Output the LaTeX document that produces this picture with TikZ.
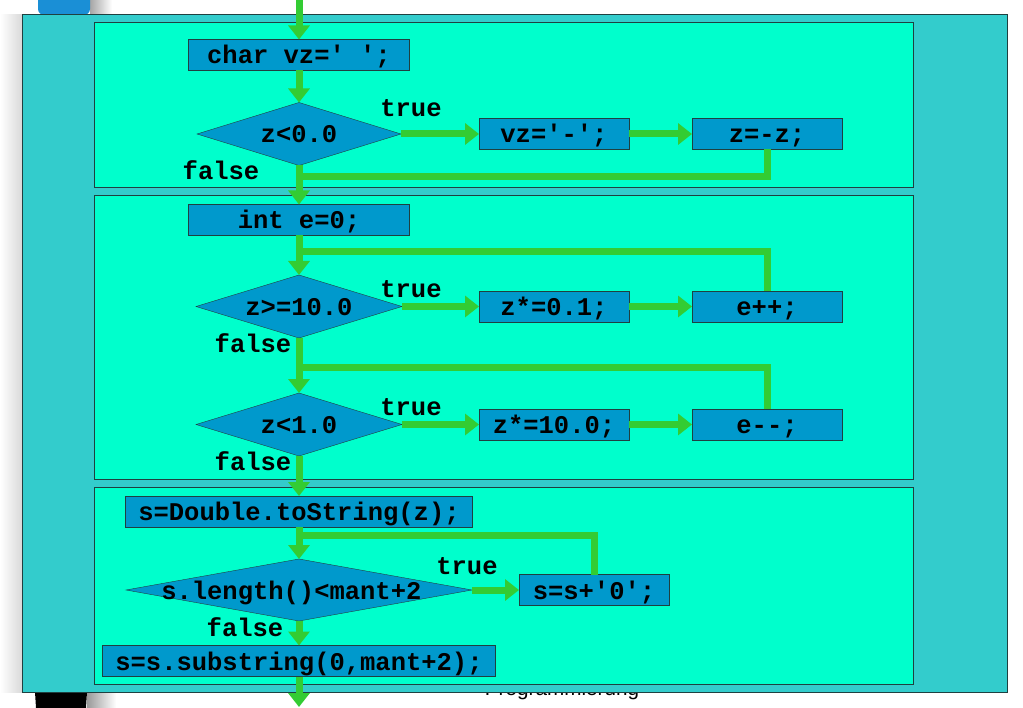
\documentclass[tikz,border=0pt]{standalone}
\usepackage{fontspec}
\setmonofont{Liberation Mono}
\newfontfamily\slidefont{Liberation Sans}
\usetikzlibrary{shapes.geometric,arrows.meta}
\definecolor{outerbg}{HTML}{33CCCC}
\definecolor{innerbg}{HTML}{00FFCC}
\definecolor{boxblue}{HTML}{0099CC}
\definecolor{flowgreen}{HTML}{33CC33}
\definecolor{rim}{HTML}{1F4040}
\definecolor{blobblue}{HTML}{1A8FD6}
\tikzset{
    code/.style={font=\ttfamily\bfseries\fontsize{25.5}{28}\selectfont,text height=20pt,text depth=2pt},
    proc/.style={code,draw=rim,fill=boxblue,minimum height=31,inner sep=0pt,outer sep=0pt},
    cond/.style={code,diamond,draw=rim,fill=boxblue,inner sep=0pt,outer sep=0pt},
    panel/.style={draw=rim,fill=innerbg,line width=1pt},
    flow/.style={draw=flowgreen,line width=7pt},
    go/.style={flow,-{Triangle[width=21pt,length=14pt]}}
}
\begin{document}
\begin{tikzpicture}[x=1pt,y=-1pt]
    \useasboundingbox (0,0) rectangle (1023,708);
    \shade[left color=white,right color=black!15] (0,15) rectangle (22,692);
    \shade[left color=black!35,right color=white] (90,0) rectangle (112,15);
    \fill[blobblue,rounded corners=6pt] (38,-10) rectangle (90,15);
    \shade[left color=black!40,right color=white] (87,692) rectangle (116,708);
    \fill[black] (35,692) -- (87,692) -- (86,708) -- (36,708) -- cycle;
    \node[font=\slidefont\fontsize{20.7}{24}\selectfont,anchor=base] (slide) at (562,695) {Programmierung};
    \draw[draw=rim,fill=outerbg,line width=1pt] (22,15) rectangle (1007,692);
    \foreach \a/\b in {23/188,196/479,487/684}
        \draw[panel] (94,\a) rectangle (913,\b);
    \foreach \n/\x/\y/\w/\t in {
        init/299/55/221/{char vz=' ';},
        neg/554/134/150/{vz='-';},
        flip/767/134/150/{z=-z;},
        einit/299/220/221/{int e=0;},
        mulA/554/306.5/150/{z*=0.1;},
        inc/767/306.5/150/{e++;},
        mulB/554/424.5/150/{z*=10.0;},
        dec/767/424.5/150/{e--;},
        tostr/299/511.5/347/{s=Double.toString(z);},
        pad/594/590/150/{s=s+'0';},
        cut/299/661/393/{s=s.substring(0,mant+2);}
    }
        \node[proc,minimum width=\w] (\n) at (\x,\y) {\t};
    \foreach \n/\y/\w/\h/\t in {
        condA/134/204/63/{z<0.0},
        condB/306.5/206/63/{z>=10.0},
        condC/424.5/206/63/{z<1.0},
        condD/590/346/62/{s.length()<mant+2}
    }
        \node[cond,minimum width=\w,minimum height=\h] (\n) at (299,\y) {\makebox[0pt]{\t}};
    \foreach \n/\x/\y/\t in {
        tA/411/108/true, fA/221/171/false,
        tB/411/289/true, fB/253/344/false,
        tC/411/407/true, fC/253/462/false,
        tD/467/565/true, fD/245/627/false
    }
        \node[code] (\n) at (\x,\y) {\t};
    \coordinate (top) at (299,0);
    \coordinate (bottom) at (299,707);
    \coordinate (jA) at (299,177);
    \coordinate (jB) at (299,252);
    \coordinate (jC) at (299,368);
    \coordinate (jD) at (299,535);
    \draw[go] (top) -- (init);
    \draw[go] (init) -- (condA);
    \draw[go] (condA) -- (neg);
    \draw[go] (neg) -- (flip);
    \draw[flow] (flip.south) |- (jA);
    \draw[go] (condA) -- (einit);
    \draw[go] (einit) -- (condB);
    \draw[go] (condB) -- (mulA);
    \draw[go] (mulA) -- (inc);
    \draw[flow] (inc.north) |- (jB);
    \draw[go] (condB) -- (condC);
    \draw[go] (condC) -- (mulB);
    \draw[go] (mulB) -- (dec);
    \draw[flow] (dec.north) |- (jC);
    \draw[go] (condC) -- (tostr);
    \draw[go] (tostr) -- (condD);
    \draw[go] (condD) -- (pad);
    \draw[flow] (pad.north) |- (jD);
    \draw[go] (condD) -- (cut);
    \draw[go] (cut) -- (bottom);
\end{tikzpicture}
\end{document}
